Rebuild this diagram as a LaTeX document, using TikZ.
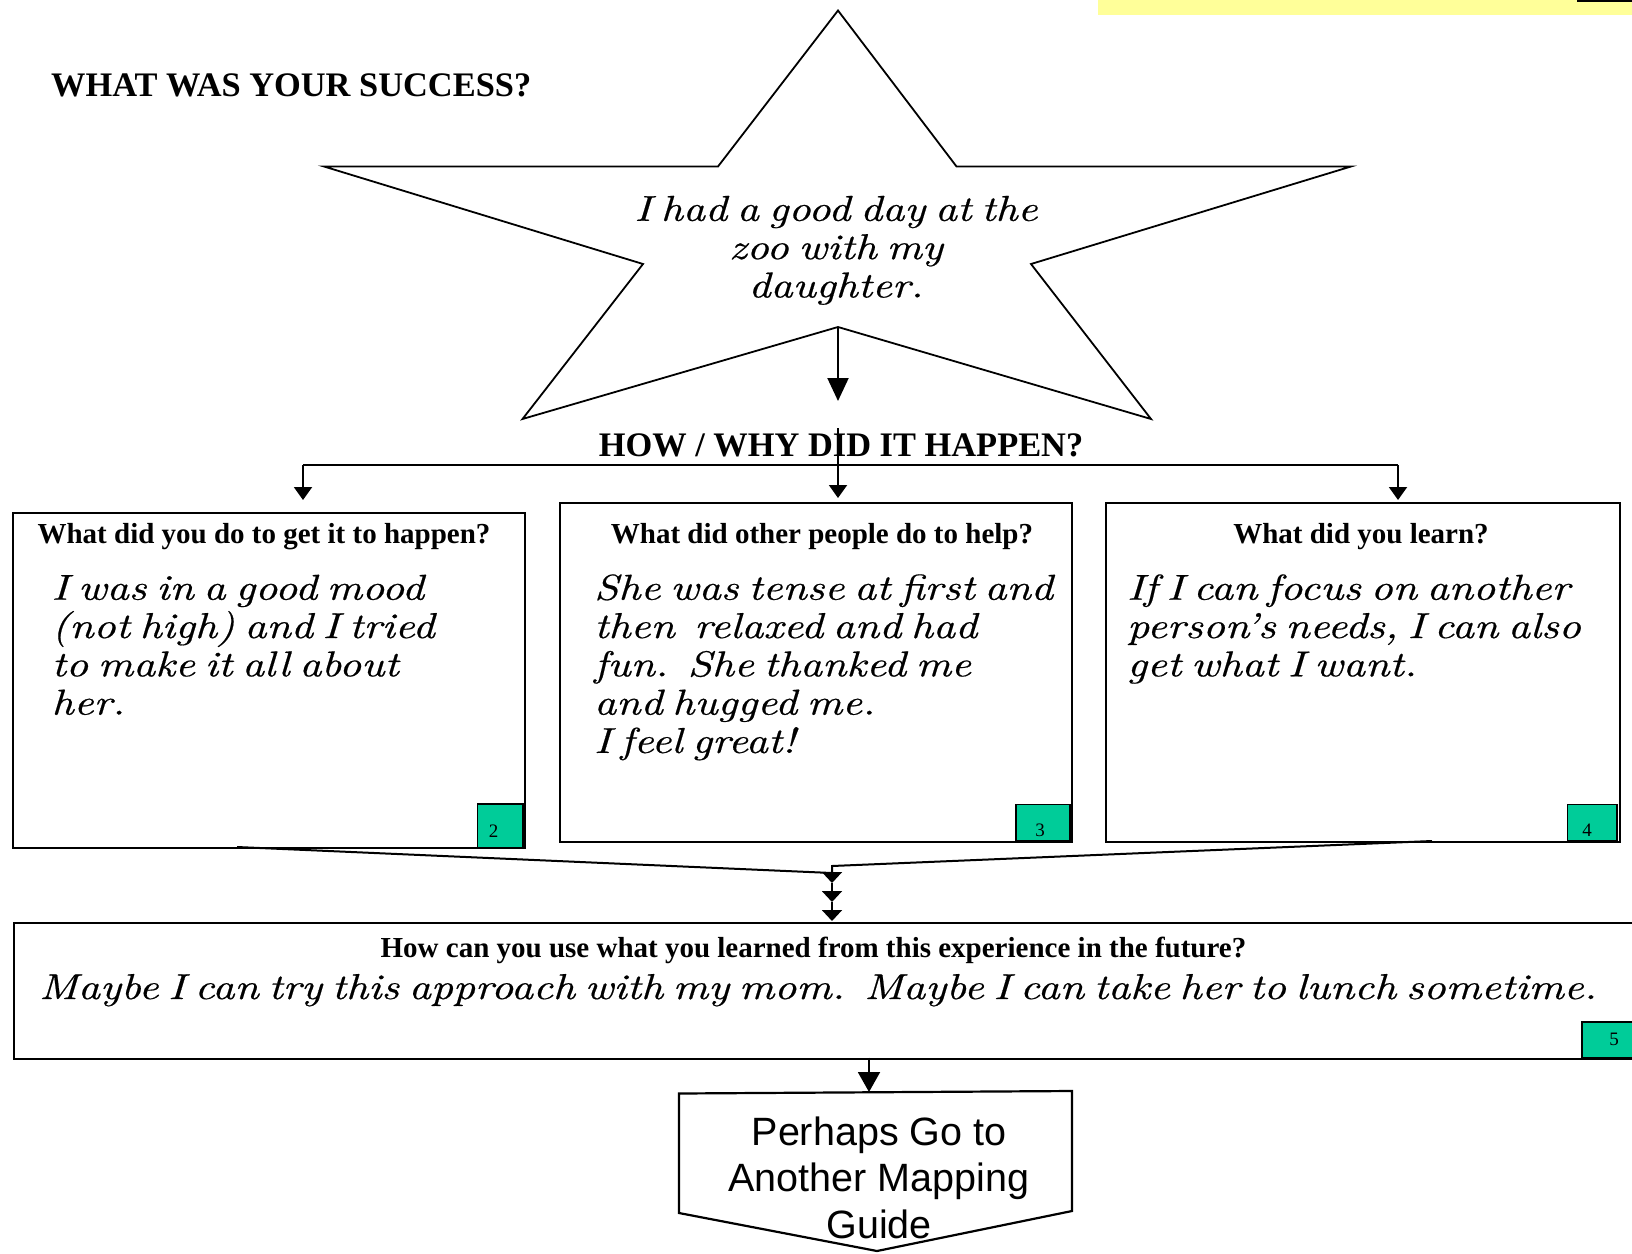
\documentclass[tikz,border=0pt]{standalone}
\usepackage{fontspec}
\setmainfont{Liberation Serif}
\newfontfamily\handfont[FakeStretch=1.2,WordSpace=0.63,FakeBold=0.5]{lmroman10-italic.otf}
\newfontfamily\guidefont{Liberation Sans}
\usetikzlibrary{arrows.meta}
\definecolor{tabgreen}{RGB}{0,204,153}
\definecolor{noteyellow}{RGB}{255,255,153}
\newcommand\handsize{\handfont\fontsize{36}{38.3}\selectfont\lineskiplimit=-20pt\relax}

\begin{document}
\begin{tikzpicture}[x=1pt,y=-1pt,
  frame/.style={draw=black, line width=2.2pt, inner sep=0pt, anchor=north west},
  tab/.style={draw=black, line width=1.8pt, fill=tabgreen, inner sep=0pt, anchor=north west},
  tabnum/.style={font=\fontsize{19}{22}\selectfont, inner sep=0pt},
  heading/.style={font=\bfseries\fontsize{29}{34}\selectfont, inner sep=0pt, anchor=base},
  bigheading/.style={font=\bfseries\fontsize{34.4}{40}\selectfont, inner sep=0pt, anchor=base},
  hand/.style={font=\handsize, inner sep=0pt, align=left, anchor=north west},
  link/.style={line width=2pt},
  bigtip/.style={link, -{Triangle[width=21pt,length=23pt]}},
  midtip/.style={link, -{Triangle[width=18pt,length=13pt]}},
  flattip/.style={link, -{Triangle[width=20pt,length=11pt]}},
]
\useasboundingbox (0,0) rectangle (1632,1253);
\clip (0,0) rectangle (1632,1253);
\fill[white] (0,0) rectangle (1632,1253);

% note strip in the upper right corner
\fill[noteyellow] (1098,0) rectangle (1632,15);
\fill[black] (1577,0) rectangle (1632,2.2);

% title
\node[bigheading, anchor=base west] (title) at (51,96) {WHAT WAS YOUR SUCCESS?};

% the success star
\draw[line width=1.8pt, line join=miter]
  (838,10.5) -- (956.5,166.5) -- (1351,166.5) -- (1031,264) -- (1151,419)
  -- (838,327) -- (522.5,419) -- (643,264) -- (324,166.5) -- (718,166.5) -- cycle;
\node[font=\handsize, inner sep=0pt, align=center, anchor=north]
  (success) at (836,193.8)
  {\strut I had a good day at the\\\strut zoo with my\\\strut daughter.};

\coordinate (starfoot) at (838,327);
\coordinate (startip) at (838,401);
\draw[bigtip] (starfoot) -- (startip);

\node[bigheading] (how) at (841,456) {HOW / WHY DID IT HAPPEN?};

% three question boxes
\node[frame, minimum width=512pt, minimum height=335pt] (b1) at (11.5,512) {};
\node[frame, minimum width=512pt, minimum height=339pt] (b2) at (559,502) {};
\node[frame, minimum width=513.5pt, minimum height=339pt] (b3) at (1105,502) {};

% distributor line
\coordinate (hl) at (303,465);
\coordinate (hr) at (1398,465);
\coordinate (hm) at (838,428);
\coordinate (t1) at (303,500);
\coordinate (t2) at (838,498);
\coordinate (t3) at (1398,500);
\draw[link] (hl) -- (hr);
\draw[midtip] (hl) -- (t1);
\draw[midtip] (hm) -- (t2);
\draw[midtip] (hr) -- (t3);

\node[heading] (q1) at (264,543) {What did you do to get it to happen?};
\node[heading] (q2) at (822,543) {What did other people do to help?};
\node[heading] (q3) at (1361,543) {What did you learn?};

\node[hand] (a1) at (51.5,572.7)
  {\strut I was in a good mood\\\strut (not high) and I tried\\\strut to make it all about\\\strut her.};
\node[hand] (a2) at (594,572.7)
  {\strut She was tense at first and\\\strut then\ \ relaxed and had\\\strut fun.\ \ She thanked me\\\strut and hugged me.\\\strut I feel great!};
\node[hand] (a3) at (1127,572.7)
  {\strut If I can focus on another\\\strut person’s needs, I can also\\\strut get what I want.};

% numbered tabs
\node[tab, minimum width=45.5pt, minimum height=44pt] (tab2) at (476.5,802.7) {};
\node[tabnum] (n2) at (493.7,830.7) {2};
\node[tab, minimum width=54pt, minimum height=36.5pt] (tab3) at (1015,803.5) {};
\node[tabnum] (n3) at (1040,830.5) {3};
\node[tab, minimum width=49.5pt, minimum height=36.5pt] (tab4) at (1566.5,803.5) {};
\node[tabnum] (n4) at (1587,830.5) {4};

% funnel into the future box
\coordinate (b1out) at (237,847);
\coordinate (b3out) at (1432,841);
\coordinate (bend) at (832,866);
\coordinate (j) at (832,873);
\coordinate (j1) at (832,883);
\coordinate (j2) at (832,902);
\coordinate (j3) at (832,921);
\draw[link] (b1out) -- (j);
\draw[link] (b3out) -- (bend) -- (j);
\draw[flattip] (j) -- (j1);
\draw[flattip] (j1) -- (j2);
\draw[flattip] (j2) -- (j3);

% future box
\node[frame, minimum width=1640pt, minimum height=135.5pt] (b4) at (12.5,922) {};
\node[heading] (q4) at (813.5,957.5) {How can you use what you learned from this experience in the future?};
\node[font=\handsize, inner sep=0pt, anchor=base west] (a4) at (39,999)
  {Maybe I can try this approach with my mom.\ \ Maybe I can take her to lunch sometime.};
\node[tab, minimum width=60pt, minimum height=36pt] (tab5) at (1581,1021) {};
\node[tabnum] (n5) at (1614,1039) {5};

% pointer to another guide
\coordinate (b4out) at (869,1057.5);
\coordinate (guidetip) at (869,1092);
\draw[line width=2.2pt, line join=miter]
  (679,1093.5) -- (1072,1091) -- (1072,1211) -- (877,1251) -- (679,1213) -- cycle;
\draw[link, -{Triangle[width=22pt,length=20pt]}] (b4out) -- (guidetip);
\node[font=\guidefont\fontsize{39.5}{46.5}\selectfont, inner sep=0pt, align=center, anchor=north]
  (guide) at (879,1112.5)
  {\strut Perhaps Go to\\\strut Another Mapping\\\strut Guide};
\end{tikzpicture}
\end{document}
